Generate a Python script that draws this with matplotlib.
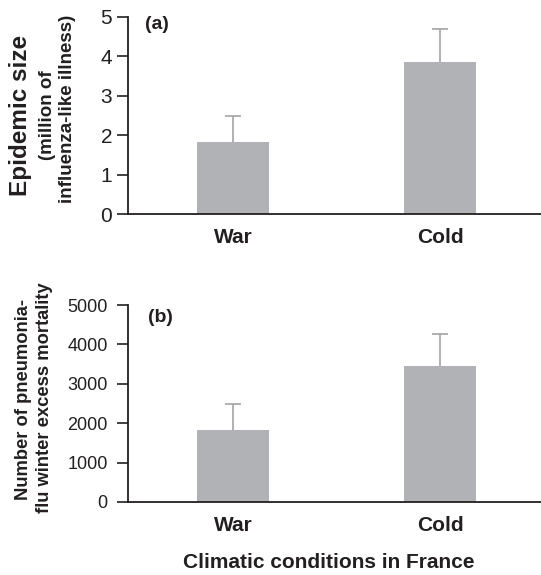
import matplotlib
matplotlib.use("Agg")
import matplotlib.pyplot as plt

plt.rcParams['font.family'] = ['Liberation Sans', 'DejaVu Sans']

categories = ["War", "Cold"]
epidemic_size = [1.84, 3.86]
epidemic_err = [0.65, 0.84]
mortality = [1830, 3450]
mortality_err = [660, 810]

TXT = '#231f20'
BAR = '#b1b2b5'
ERR = '#a9aaad'

fig = plt.figure(figsize=(5.41, 5.75), dpi=100)
ax_a = fig.add_axes([128/541, 1-214/575, 1-128/541, (214-17)/575])
ax_b = fig.add_axes([128/541, 1-502/575, 1-128/541, (502-305)/575])

x = [0, 1]
for ax, vals, errs, ylim, yt, tsize, pad in [
        (ax_a, epidemic_size, epidemic_err, 5, [0, 1, 2, 3, 4, 5], 15, 3.5),
        (ax_b, mortality, mortality_err, 5000, [0, 1000, 2000, 3000, 4000, 5000], 13, 6.5)]:
    ax.bar(x, vals, width=0.35, color=BAR, edgecolor='none', zorder=2)
    cont = ax.errorbar(x, vals, yerr=[[0, 0], errs], fmt='none', ecolor=ERR,
                       elinewidth=1.3, capsize=5.5, capthick=1.3, zorder=1)
    caps = cont.lines[1]
    if len(caps) == 2:
        caps[0].set_visible(False)
    ax.set_xlim(-0.507, 1.488)
    ax.set_ylim(0, ylim)
    ax.set_yticks(yt)
    ax.set_xticks(x)
    ax.set_xticklabels(categories, fontsize=15, fontweight='bold', color=TXT)
    ax.tick_params(axis='x', length=0, pad=10)
    ax.tick_params(axis='y', length=8, width=1.2, color=TXT, labelsize=tsize,
                   labelcolor=TXT, pad=pad)
    for s in ['top', 'right']:
        ax.spines[s].set_visible(False)
    for s in ['left', 'bottom']:
        ax.spines[s].set_color(TXT)
        ax.spines[s].set_linewidth(1.3)

ax_a.text(0.04, 0.96, "(a)", transform=ax_a.transAxes, fontsize=14,
          fontweight='bold', color=TXT, ha='left', va='center')
ax_b.text(0.048, 0.935, "(b)", transform=ax_b.transAxes, fontsize=14,
          fontweight='bold', color=TXT, ha='left', va='center')

# y labels
fig.text(21/541, 1-115/575, "Epidemic size", rotation=90, fontsize=17.5,
         fontweight='bold', color=TXT, ha='center', va='center')
fig.text(47/541, 1-115/575, "(million of", rotation=90, fontsize=13.5,
         fontweight='bold', color=TXT, ha='center', va='center')
fig.text(67/541, 1-109/575, "influenza-like illness)", rotation=90, fontsize=13.5,
         fontweight='bold', color=TXT, ha='center', va='center')

fig.text(24/541, 1-400/575, "Number of pneumonia-", rotation=90, fontsize=13.2,
         fontweight='bold', color=TXT, ha='center', va='center')
fig.text(45/541, 1-398/575, "flu winter excess mortality", rotation=90, fontsize=13.2,
         fontweight='bold', color=TXT, ha='center', va='center')

fig.text(329/541, 1-562/575, "Climatic conditions in France", fontsize=15,
         fontweight='bold', color=TXT, ha='center', va='center')

fig.savefig("out.png", dpi=100)
